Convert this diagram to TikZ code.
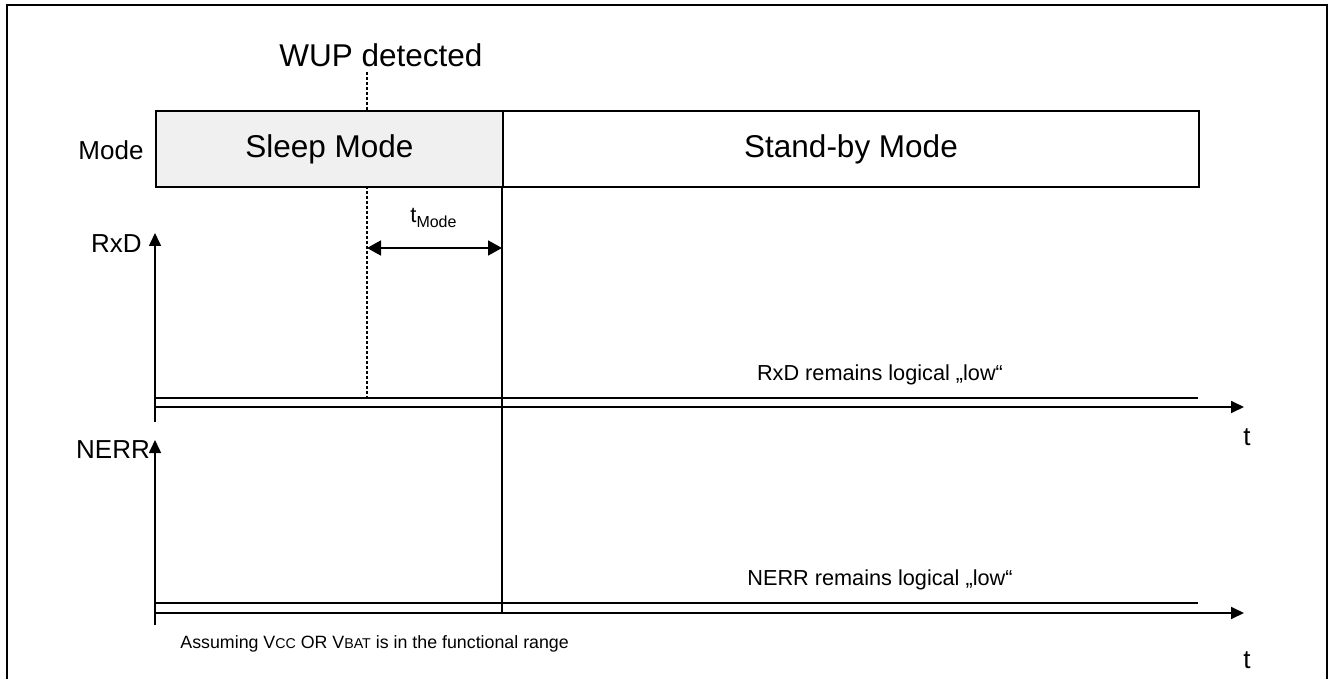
\documentclass[tikz,border=0pt]{standalone}
\usepackage{fontspec}
\setmainfont{Liberation Sans}
\usetikzlibrary{arrows.meta}
\definecolor{sleepgray}{HTML}{F0F0F0}
\begin{document}
\begin{tikzpicture}[x=0.5pt,y=-0.5pt,
  frame/.style={line width=1pt},
  modebox/.style={draw, line width=1pt, inner sep=0pt, font=\fontsize{15.75}{18}\selectfont},
  ln/.style={line width=0.9pt},
  axisarrow/.style={line width=0.8pt, -{Triangle[length=6.5pt,width=6pt]}},
  dimarrow/.style={line width=0.9pt, {Triangle[length=7pt,width=7.5pt]}-{Triangle[length=7pt,width=7.5pt]}},
  dots/.style={line width=0.7pt, dash pattern=on 1.5pt off 1pt},
  big/.style={inner sep=0pt, anchor=base, font=\fontsize{15.75}{18}\selectfont},
  sig/.style={inner sep=0pt, anchor=base, font=\fontsize{13}{15}\selectfont},
  note/.style={inner sep=0pt, anchor=base, font=\fontsize{10.85}{13}\selectfont},
  small/.style={inner sep=0pt, anchor=base west, font=\fontsize{8.9}{10}\selectfont}]
\useasboundingbox (0,0) rectangle (1332,679);
% outer frame
\coordinate (fbl) at (7,679);
\coordinate (ftl) at (7,5);
\coordinate (ftr) at (1327,5);
\coordinate (fbr) at (1327,679);
\draw[frame] (fbl) -- (ftl) -- (ftr) -- (fbr);

% mode boxes
\node[modebox, fill=sleepgray, minimum width=173.5pt, minimum height=38pt, anchor=north west] (sleep) at (155,110) {Sleep Mode};
\node[modebox, minimum width=348pt, minimum height=38pt, anchor=north west] (standby) at (502,110) {Stand-by Mode};
\node[sig] (modelbl) at (111,160) {Mode};

% WUP
\node[big] (wup) at (381,67) {WUP detected};
\coordinate (wupT) at (367,72);
\coordinate (wupB) at (367,110);
\coordinate (wupC) at (367,186);
\coordinate (wupD) at (367,398);
\draw[dots] (wupT) -- (wupB);
\draw[dots] (wupC) -- (wupD);

% t_Mode
\coordinate (tmA) at (367,248);
\coordinate (tmB) at (502,248);
\draw[dimarrow] (tmA) -- (tmB);
\node[inner sep=0pt, anchor=base west, font=\fontsize{11}{13}\selectfont] (tmode) at (410,223) {t\raisebox{-2.2pt}{\fontsize{8}{9}\selectfont Mode}};

% mode change line
\coordinate (chgT) at (502,186);
\coordinate (chgB) at (502,613);
\draw[ln] (chgT) -- (chgB);

% RxD
\coordinate (rxBot) at (155,422);
\coordinate (rxTop) at (155,233);
\draw[axisarrow] (rxBot) -- (rxTop);
\node[sig] (rxlbl) at (116.5,252) {RxD};
\coordinate (rxL1a) at (155,398);
\coordinate (rxL1b) at (1198,398);
\coordinate (rxL2a) at (155,407);
\coordinate (rxL2b) at (1244,407);
\draw[ln] (rxL1a) -- (rxL1b);
\draw[axisarrow, line width=0.9pt] (rxL2a) -- (rxL2b);
\node[sig] (rxt) at (1247,445) {t};
\node[note] (rxnote) at (880,380) {RxD remains logical „low“};

% NERR
\coordinate (neBot) at (155,625);
\coordinate (neTop) at (155,440);
\draw[axisarrow] (neBot) -- (neTop);
\node[sig] (nelbl) at (113,458) {NERR};
\coordinate (neL1a) at (155,603);
\coordinate (neL1b) at (1198,603);
\coordinate (neL2a) at (155,613);
\coordinate (neL2b) at (1244,613);
\draw[ln] (neL1a) -- (neL1b);
\draw[axisarrow, line width=0.9pt] (neL2a) -- (neL2b);
\node[sig] (net) at (1247,668) {t};
\node[note] (nenote) at (880,585) {NERR remains logical „low“};

\node[small] (assume) at (180,648) {Assuming V{\fontsize{7.1}{8}\selectfont CC} OR V{\fontsize{7.1}{8}\selectfont BAT} is in the functional range};
\end{tikzpicture}
\end{document}
